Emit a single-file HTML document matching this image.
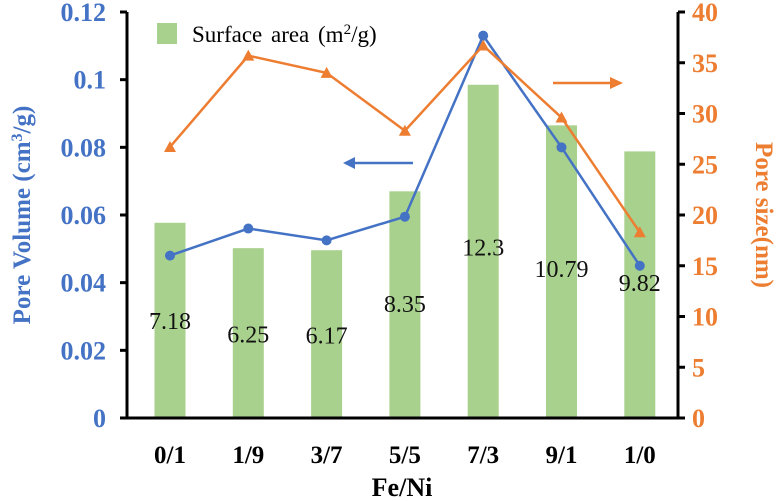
<!DOCTYPE html>
<html><head><meta charset="utf-8"><style>
body{margin:0;background:#fff}
svg{display:block}
text{font-family:"Liberation Serif","DejaVu Serif",serif !important}
</style></head><body>
<svg id="chart" width="780" height="501" viewBox="0 0 780 501" xmlns="http://www.w3.org/2000/svg" style="font-family:'Liberation Serif',serif"></svg>
<script>
const categories=["0/1","1/9","3/7","5/5","7/3","9/1","1/0"];
const surfaceBar=[0.0577,0.0502,0.0496,0.0670,0.0985,0.0865,0.0788];
const surfaceLabels=[7.18,6.25,6.17,8.35,12.3,10.79,9.82];
const poreVolume=[0.048,0.056,0.0525,0.0595,0.113,0.080,0.045];
const poreSize=[26.7,35.7,34.0,28.3,36.7,29.6,18.3];
const leftTicks=[0,0.02,0.04,0.06,0.08,0.1,0.12];
const leftTickLabels=["0","0.02","0.04","0.06","0.08","0.1","0.12"];
const rightTicks=[0,5,10,15,20,25,30,35,40];

const NS="http://www.w3.org/2000/svg";
const svg=document.getElementById('chart');
const X0=127,X1=678,Y0=418,Y1=12;
const BLUE="#4472C4",ORANGE="#ED7D31",GREEN="#A9D18E";
function xc(i){return 170+78.3*i;}
function yl(v){return Y0-(Y0-Y1)*v/0.12;}
function yr(v){return Y0-(Y0-Y1)*v/40;}
function el(tag,attrs,parent){const e=document.createElementNS(NS,tag);for(const k in attrs)e.setAttribute(k,attrs[k]);(parent||svg).appendChild(e);return e;}
function txt(attrs,s){const t=el('text',attrs);t.style.fontFamily="'Liberation Serif', serif";t.textContent=s;return t;}

surfaceBar.forEach((v,i)=>{
  const r=el('rect',{x:xc(i)-15.5,y:yl(v),width:31,height:Y0-yl(v),fill:GREEN});
  
  
});
surfaceLabels.forEach((v,i)=>{
  const t=txt({x:xc(i),y:335-14.4*(v-6.21)+8,'text-anchor':'middle','font-size':24,fill:'#111'},String(v));
  
  
});
const pv=el('polyline',{points:poreVolume.map((v,i)=>xc(i)+','+yl(v)).join(' '),fill:'none',stroke:BLUE,'stroke-width':2.5});


poreVolume.forEach((v,i)=>{
  const c=el('circle',{cx:xc(i),cy:yl(v),r:5,fill:BLUE});
  
  
});
const ps=el('polyline',{points:poreSize.map((v,i)=>xc(i)+','+yr(v)).join(' '),fill:'none',stroke:ORANGE,'stroke-width':2.5});


poreSize.forEach((v,i)=>{
  const x=xc(i),y=yr(v);
  const p=el('polygon',{points:`${x},${y-6} ${x-6},${y+5} ${x+6},${y+5}`,fill:ORANGE});
  
  
});
const ax=el('g',{stroke:'#000','stroke-width':3});


el('line',{x1:X0,y1:Y1,x2:X0,y2:Y0+1.5},ax);
el('line',{x1:X1,y1:Y1,x2:X1,y2:Y0+1.5},ax);
el('line',{x1:X0-6,y1:Y0,x2:X1+6,y2:Y0},ax);
leftTicks.forEach((v,i)=>{
  el('line',{x1:X0-7,y1:yl(v),x2:X0,y2:yl(v)},ax);
  const t=txt({x:106,y:yl(v)+9,'text-anchor':'end','font-size':26,'font-weight':'bold',fill:BLUE},leftTickLabels[i]);
  
  
});
rightTicks.forEach(v=>{
  el('line',{x1:X1,y1:yr(v),x2:X1+7,y2:yr(v)},ax);
  const t=txt({x:692,y:yr(v)+9,'font-size':26,'font-weight':'bold',fill:ORANGE},String(v));
  
  
});
categories.forEach((c,i)=>{
  const t=txt({x:xc(i),y:463,'text-anchor':'middle','font-size':25,'font-weight':'bold',fill:'#000'},c);
  
  
});
</script>
<svg style="position:absolute;left:0;top:0" width="780" height="501" xmlns="http://www.w3.org/2000/svg">
  <text x="402" y="496" text-anchor="middle" font-size="26" font-weight="bold">Fe/Ni</text>
  <text transform="translate(30,215) rotate(-90)" text-anchor="middle" font-size="25" font-weight="bold" fill="#4472C4">Pore Volume (cm<tspan baseline-shift="super" font-size="16">3</tspan>/g)</text>
  <text transform="translate(756,215) rotate(90)" text-anchor="middle" font-size="25" font-weight="bold" fill="#ED7D31">Pore size(nm)</text>
  <rect x="157" y="23" width="20" height="21" fill="#A9D18E"/>
  <text x="192" y="42" font-size="23" word-spacing="3">Surface area (m<tspan baseline-shift="super" font-size="15">2</tspan>/g)</text>
  <g>
    <line x1="413" y1="163" x2="352" y2="163" stroke="#4472C4" stroke-width="2.5"/>
    <polygon points="343,163 355,157 355,169" fill="#4472C4"/>
  </g>
  <g>
    <line x1="553" y1="83" x2="612" y2="83" stroke="#ED7D31" stroke-width="2.5"/>
    <polygon points="623,83 610,77 610,89" fill="#ED7D31"/>
  </g>
</svg>
</body></html>
